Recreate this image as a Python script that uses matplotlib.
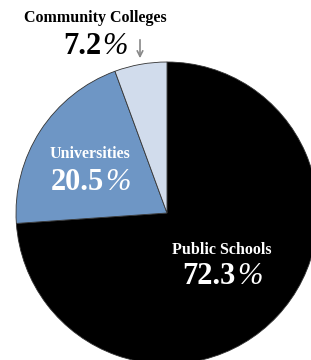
import matplotlib.pyplot as plt

categories = ['Public Schools', 'Universities', 'Community Colleges']
label_pct = [72.3, 20.5, 7.2]
# slice sizes as drawn in the reference (they do not follow the printed labels exactly)
wedge_sizes = [73.9, 20.5, 5.6]
colors = ['#000000', '#6e96c5', '#d1dcec']

W, H = 311, 360
fig = plt.figure(figsize=(W / 100, H / 100), dpi=100)
ax = fig.add_axes([0, 0, 1, 1])

ax.pie(wedge_sizes, colors=colors, startangle=90, counterclock=False,
       center=(167, H - 213), radius=151,
       wedgeprops=dict(edgecolor='#333333', linewidth=0.6))
ax.set_xlim(0, W)
ax.set_ylim(0, H)
ax.set_aspect('equal')
ax.axis('off')

serif = 'Liberation Serif'
renderer = fig.canvas.get_renderer()


def label(x, y_name, y_num, name, value, color, name_size=11.5, num_size=22):
    ax.text(x, H - y_name, name, ha='center', va='center', color=color,
            fontsize=name_size, fontweight='bold', family=serif)
    num = ax.text(x, H - y_num, f'{value}', ha='right', va='center', color=color,
                  fontsize=num_size, fontweight='bold', family=serif)
    pct = ax.text(x, H - y_num, '%', ha='left', va='center', color=color,
                  fontsize=num_size, style='italic', family=serif)
    w1 = num.get_window_extent(renderer).width
    w2 = pct.get_window_extent(renderer).width
    shift = (w1 - w2) / 2
    num.set_x(x + shift)
    pct.set_x(x + shift + 1)


label(95, 18, 46, categories[2], label_pct[2], 'black')
label(90, 154, 182, categories[1], label_pct[1], 'white')
label(222, 250, 277, categories[0], label_pct[0], 'white')

ax.annotate('', xy=(140, H - 61), xytext=(140, H - 37),
            arrowprops=dict(arrowstyle='->', color='#888888', lw=1.2))

fig.savefig('out.png', dpi=100)
